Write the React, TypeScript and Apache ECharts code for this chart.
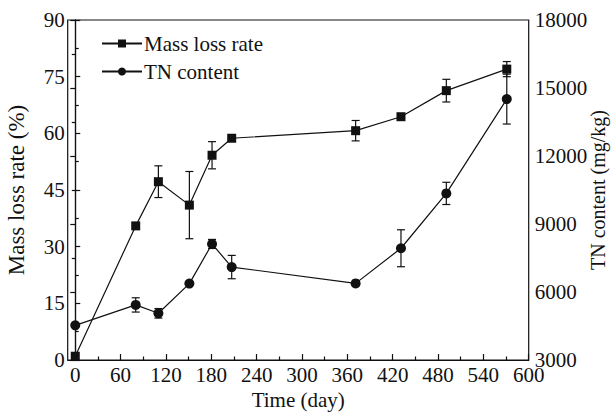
import React, { useEffect, useRef } from "react";
import * as echarts from "echarts";

const days = [0, 80, 110, 151, 181, 207, 371, 431, 491, 571];
const massLoss = [1, 35.5, 47.2, 41.0, 54.2, 58.7, 60.7, 64.4, 71.3, 77.0];
const massErr = [0, 0, 4.2, 8.9, 3.6, 0, 2.7, 0, 3.0, 2.0];
const tnContent = [4530, 5430, 5060, 6370, 8120, 7100, 6380, 7930, 10350, 14510];
const tnErr = [0, 315, 210, 0, 200, 515, 0, 815, 490, 1100];

const xMajorTicks = [0, 60, 120, 180, 240, 300, 360, 420, 480, 540, 600];
const xMinorTicks = [30, 90, 150, 210, 270, 330, 390, 450, 510, 570];

const FONT = "'Liberation Serif', 'Times New Roman', 'DejaVu Serif', serif";
const INK = "#111";

export default function App() {
  const ref = useRef<HTMLDivElement>(null);
  useEffect(() => {
    document.body.style.margin = "0";
    const chart = echarts.init(ref.current!, null, { renderer: "svg" });

    const errRender = (params: any, api: any) => {
      const x = api.value(0);
      const lo = api.value(1);
      const hi = api.value(2);
      if (hi - lo <= 0) return null;
      const pTop = api.coord([x, hi]);
      const pBot = api.coord([x, lo]);
      const w = 4;
      const style = { stroke: INK, lineWidth: 1.2 };
      return {
        type: "group",
        children: [
          { type: "line", shape: { x1: pTop[0], y1: pTop[1], x2: pBot[0], y2: pBot[1] }, style },
          { type: "line", shape: { x1: pTop[0] - w, y1: pTop[1], x2: pTop[0] + w, y2: pTop[1] }, style },
          { type: "line", shape: { x1: pBot[0] - w, y1: pBot[1], x2: pBot[0] + w, y2: pBot[1] }, style },
        ],
      };
    };

    const massPts = days.map((d, i) => [d, massLoss[i]]);
    const tnPts = days.map((d, i) => [d, tnContent[i]]);
    const massErrPts = days.map((d, i) => [d, massLoss[i] - massErr[i], massLoss[i] + massErr[i]]);
    const tnErrPts = days.map((d, i) => [d, tnContent[i] - tnErr[i], tnContent[i] + tnErr[i]]);

    const labelStyle = { fontFamily: FONT, fontSize: 21, color: INK };

    chart.setOption({
      animation: false,
      textStyle: { fontFamily: FONT, color: INK },
      grid: {
        left: 67.7,
        right: 82.3,
        top: 20,
        bottom: 54,
        containLabel: false,
        outerBoundsMode: "none",
        show: true,
        borderColor: INK,
        borderWidth: 1.2,
        backgroundColor: "transparent",
      },
      legend: {
        show: true,
        orient: "vertical",
        left: 96,
        top: 28,
        itemWidth: 40,
        itemHeight: 10,
        itemGap: 7,
        data: ["Mass loss rate", "TN content"],
        textStyle: { fontFamily: FONT, fontSize: 21, color: INK, padding: [0, 0, 0, -3] },
      },
      xAxis: [
        {
          type: "value",
          min: -10,
          max: 600,
          name: "Time (day)",
          nameLocation: "middle",
          nameGap: 29,
          nameMoveOverlap: false,
          nameTextStyle: { fontFamily: FONT, fontSize: 21, color: INK },
          axisLine: { show: true, lineStyle: { color: INK, width: 1.2 } },
          axisTick: { show: true, inside: true, length: 6, customValues: xMajorTicks, lineStyle: { color: INK, width: 1.2 } },
          axisLabel: { ...labelStyle, margin: 4, customValues: xMajorTicks, formatter: (v: number) => String(v) },
          splitLine: { show: false },
        },
        {
          type: "value",
          min: -10,
          max: 600,
          position: "bottom",
          axisLine: { show: false },
          axisTick: { show: true, inside: true, length: 3.5, customValues: xMinorTicks, lineStyle: { color: INK, width: 1.2 } },
          axisLabel: { show: false },
          splitLine: { show: false },
        },
      ],
      yAxis: [
        {
          type: "value",
          min: 0,
          max: 90,
          interval: 15,
          position: "left",
          name: "Mass loss rate (%)",
          nameLocation: "middle",
          nameGap: 40,
          nameMoveOverlap: false,
          nameTextStyle: { fontFamily: FONT, fontSize: 23, color: INK },
          axisLine: { show: true, lineStyle: { color: INK, width: 1.2 } },
          axisTick: { show: true, inside: true, length: 5, lineStyle: { color: INK, width: 1.2 } },
          minorTick: { show: true, splitNumber: 2, length: 3.5, lineStyle: { color: INK, width: 1.2 } },
          axisLabel: { ...labelStyle, margin: 3, formatter: (v: number) => String(v) },
          splitLine: { show: false },
          minorSplitLine: { show: false },
        },
        {
          type: "value",
          min: 3000,
          max: 18000,
          interval: 3000,
          position: "right",
          name: "TN content (mg/kg)",
          nameLocation: "middle",
          nameGap: 59,
          nameMoveOverlap: false,
          nameTextStyle: { fontFamily: FONT, fontSize: 20, color: INK },
          axisLine: { show: true, lineStyle: { color: INK, width: 1.2 } },
          axisTick: { show: true, inside: true, length: 5, lineStyle: { color: INK, width: 1.2 } },
          minorTick: { show: true, splitNumber: 2, length: 3.5, lineStyle: { color: INK, width: 1.2 } },
          axisLabel: { ...labelStyle, margin: 6, formatter: (v: number) => String(v) },
          splitLine: { show: false },
          minorSplitLine: { show: false },
        },
      ],
      series: [
        {
          name: "Mass loss error",
          type: "custom",
          xAxisIndex: 0,
          yAxisIndex: 0,
          renderItem: errRender,
          data: massErrPts,
          z: 1,
          silent: true,
        },
        {
          name: "TN error",
          type: "custom",
          xAxisIndex: 0,
          yAxisIndex: 1,
          renderItem: errRender,
          data: tnErrPts,
          z: 1,
          silent: true,
        },
        {
          name: "Mass loss rate",
          type: "line",
          xAxisIndex: 0,
          yAxisIndex: 0,
          data: massPts,
          symbol: "rect",
          symbolSize: 9,
          itemStyle: { color: INK },
          lineStyle: { color: INK, width: 1.2 },
          z: 3,
        },
        {
          name: "TN content",
          type: "line",
          xAxisIndex: 0,
          yAxisIndex: 1,
          data: tnPts,
          symbol: "circle",
          symbolSize: 10,
          itemStyle: { color: INK },
          lineStyle: { color: INK, width: 1.2 },
          z: 3,
        },
      ],
    });
    return () => chart.dispose();
  }, []);
  return <div ref={ref} style={{ width: 611, height: 414 }} />;
}
